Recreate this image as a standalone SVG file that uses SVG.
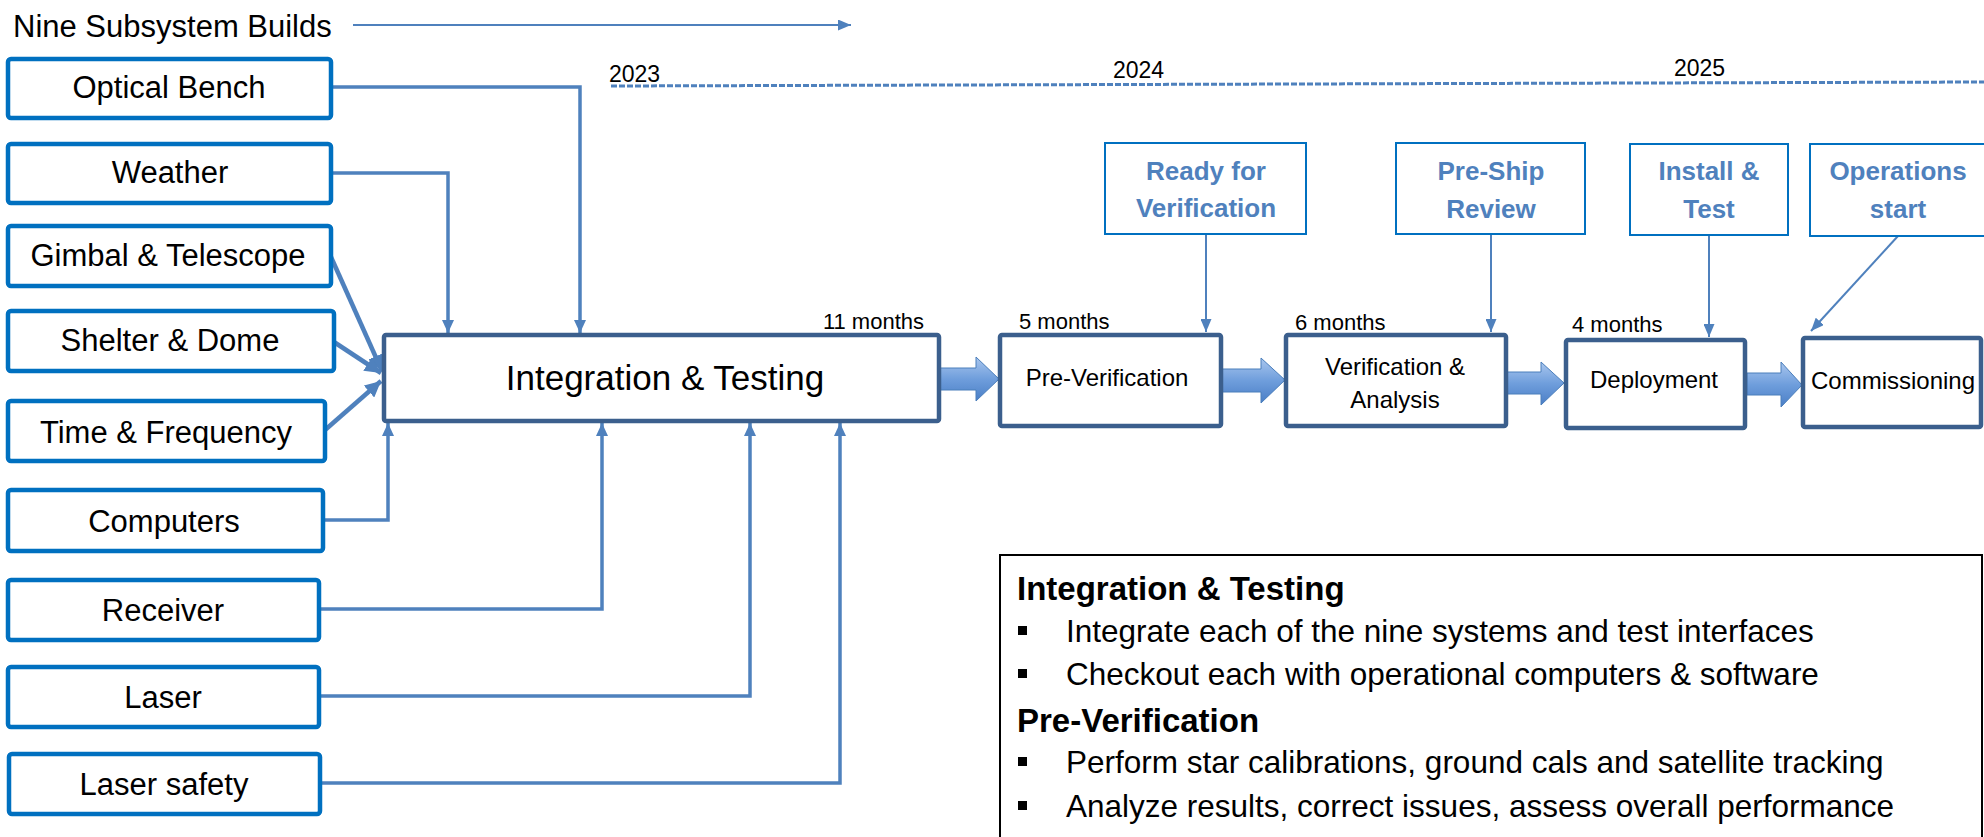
<svg xmlns="http://www.w3.org/2000/svg" width="1984" height="837" viewBox="0 0 1984 837">
<defs>
<style>
text{font-family:"Liberation Sans",Arial,sans-serif;fill:#000}
.sub rect{fill:#fff;stroke:#0070c0;stroke-width:4.5}
.sub text{font-size:31px;text-anchor:middle}
.proc rect{fill:#fff;stroke:#3b5f8d;stroke-width:4.5}
.proc text{font-size:24px;text-anchor:middle}
.ms rect{fill:#fff;stroke:#0070c0;stroke-width:2}
.ms text{font-size:26px;font-weight:bold;fill:#4f81bd;text-anchor:middle}
.conn path{fill:none;stroke:#4f81bd}
.c1{stroke-width:3.5;marker-end:url(#ah)}
.c2{stroke-width:4.5;marker-end:url(#ahb)}
.c3{stroke-width:2;marker-end:url(#aht)}
.flow path{fill:url(#bg);stroke:#4a7ebb;stroke-width:1}
.yr{font-size:23px}
.info text{font-size:31.5px}
.info .h{font-size:33px;font-weight:bold}
</style>
<linearGradient id="bg" x1="0" y1="0" x2="0" y2="1">
<stop offset="0" stop-color="#a9c6ee"/>
<stop offset="0.5" stop-color="#6f9edc"/>
<stop offset="1" stop-color="#4a7ec6"/>
</linearGradient>
<marker id="ah" markerUnits="userSpaceOnUse" markerWidth="13" markerHeight="12" refX="13" refY="6" orient="auto">
<path d="M0,0 L13,6 L0,12 z" fill="#4f81bd"/>
</marker>
<marker id="ahb" markerUnits="userSpaceOnUse" markerWidth="16" markerHeight="16" refX="16" refY="8" orient="auto">
<path d="M0,0 L16,8 L0,16 z" fill="#4f81bd"/>
</marker>
<marker id="aht" markerUnits="userSpaceOnUse" markerWidth="13" markerHeight="11" refX="13" refY="5.5" orient="auto">
<path d="M0,0 L13,5.5 L0,11 z" fill="#4f81bd"/>
</marker>
</defs>
<rect width="1984" height="837" fill="#fff"/>

<text x="13" y="37" font-size="31">Nine Subsystem Builds</text>

<g id="timeline">
<path d="M611,86 L1984,82" fill="none" stroke="#4f81bd" stroke-width="3" stroke-dasharray="6 2"/>
<text class="yr" x="609" y="82">2023</text>
<text class="yr" x="1113" y="78">2024</text>
<text class="yr" x="1674" y="76">2025</text>
</g>

<g class="conn" id="connectors">
<path class="c3" d="M353,25 H851"/>
<path class="c1" d="M331,87 H580 V333"/>
<path class="c1" d="M331,173 H448 V333"/>
<path class="c2" d="M331,257 L382,371"/>
<path class="c2" d="M334,342 L381,373"/>
<path class="c2" d="M325,430 L381,381"/>
<path class="c1" d="M323,520 H388 V423"/>
<path class="c1" d="M319,609 H602 V423"/>
<path class="c1" d="M319,696 H750 V423"/>
<path class="c1" d="M320,783 H840 V423"/>
<path class="c3" d="M1206,234 V332"/>
<path class="c3" d="M1491,234 V332"/>
<path class="c3" d="M1709,235 V337"/>
<path class="c3" d="M1898,236 L1811,331"/>
</g>

<g class="flow" id="flow-arrows">
<path d="M940,368 H976 V357 L999,379 L976,401 V390 H940 Z"/>
<path d="M1221,369 H1261 V358 L1285,380 L1261,403 V392 H1221 Z"/>
<path d="M1506,372 H1541 V362 L1564,383 L1541,405 V394 H1506 Z"/>
<path d="M1747,373 H1781 V362 L1802,385 L1781,407 V395 H1747 Z"/>
</g>

<g class="sub" id="optical-bench"><rect x="8" y="59" width="323" height="59" rx="3"/><text x="169" y="98">Optical Bench</text></g>
<g class="sub" id="weather"><rect x="8" y="144" width="323" height="59" rx="3"/><text x="170" y="183">Weather</text></g>
<g class="sub" id="gimbal"><rect x="8" y="226" width="323" height="60" rx="3"/><text x="168" y="266">Gimbal &amp; Telescope</text></g>
<g class="sub" id="shelter"><rect x="8" y="311" width="326" height="60" rx="3"/><text x="170" y="351">Shelter &amp; Dome</text></g>
<g class="sub" id="time-frequency"><rect x="8" y="401" width="317" height="60" rx="3"/><text x="166" y="443">Time &amp; Frequency</text></g>
<g class="sub" id="computers"><rect x="8" y="490" width="315" height="61" rx="3"/><text x="164" y="532">Computers</text></g>
<g class="sub" id="receiver"><rect x="8" y="580" width="311" height="60" rx="3"/><text x="163" y="621">Receiver</text></g>
<g class="sub" id="laser"><rect x="8" y="667" width="311" height="60" rx="3"/><text x="163" y="708">Laser</text></g>
<g class="sub" id="laser-safety"><rect x="9" y="754" width="311" height="60" rx="3"/><text x="164" y="795">Laser safety</text></g>

<g class="proc" id="integration"><rect x="384" y="335" width="555" height="86" rx="2"/><text x="665" y="390" style="font-size:35px">Integration &amp; Testing</text><text x="924" y="329" style="font-size:22px;text-anchor:end">11 months</text></g>
<g class="proc" id="pre-verification"><rect x="1000" y="335" width="221" height="91" rx="2"/><text x="1107" y="386">Pre-Verification</text><text x="1019" y="329" style="font-size:22px;text-anchor:start">5 months</text></g>
<g class="proc" id="verification"><rect x="1286" y="335" width="220" height="91" rx="2"/><text x="1395" y="375">Verification &amp;</text><text x="1395" y="408">Analysis</text><text x="1295" y="330" style="font-size:22px;text-anchor:start">6 months</text></g>
<g class="proc" id="deployment"><rect x="1566" y="340" width="179" height="88" rx="2"/><text x="1654" y="388">Deployment</text><text x="1572" y="332" style="font-size:22px;text-anchor:start">4 months</text></g>
<g class="proc" id="commissioning"><rect x="1803" y="338" width="178" height="89" rx="2"/><text x="1893" y="389">Commissioning</text></g>

<g class="ms" id="ready-for-verification"><rect x="1105" y="143" width="201" height="91"/><text x="1206" y="180">Ready for</text><text x="1206" y="217">Verification</text></g>
<g class="ms" id="pre-ship-review"><rect x="1396" y="143" width="189" height="91"/><text x="1491" y="180">Pre-Ship</text><text x="1491" y="218">Review</text></g>
<g class="ms" id="install-test"><rect x="1630" y="144" width="158" height="91"/><text x="1709" y="180">Install &amp;</text><text x="1709" y="218">Test</text></g>
<g class="ms" id="operations-start"><rect x="1810" y="144" width="190" height="92"/><text x="1898" y="180">Operations</text><text x="1898" y="218">start</text></g>

<g class="info" id="notes">
<rect x="1000" y="555" width="982" height="300" fill="#fff" stroke="#000" stroke-width="2"/>
<text class="h" x="1017" y="600">Integration &amp; Testing</text>
<rect x="1018" y="626" width="9" height="9" fill="#000"/>
<text x="1066" y="642">Integrate each of the nine systems and test interfaces</text>
<rect x="1018" y="669" width="9" height="9" fill="#000"/>
<text x="1066" y="685">Checkout each with operational computers &amp; software</text>
<text class="h" x="1017" y="732">Pre-Verification</text>
<rect x="1018" y="757" width="9" height="9" fill="#000"/>
<text x="1066" y="773">Perform star calibrations, ground cals and satellite tracking</text>
<rect x="1018" y="801" width="9" height="9" fill="#000"/>
<text x="1066" y="817">Analyze results, correct issues, assess overall performance</text>
</g>
</svg>
